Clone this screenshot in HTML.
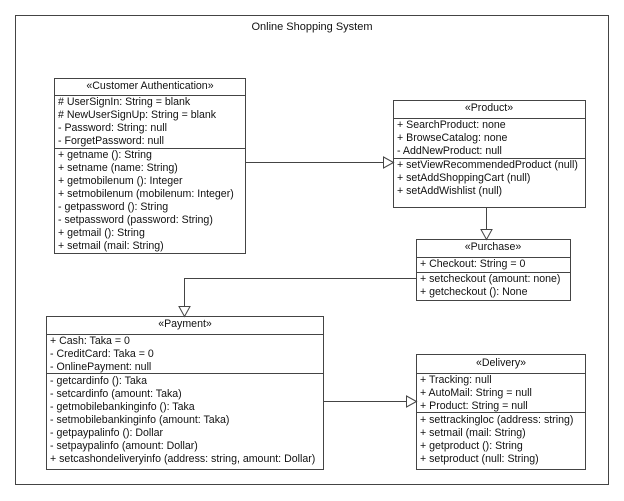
<!DOCTYPE html>
<html><head><meta charset="utf-8"><style>
html,body{margin:0;padding:0;background:#fff;}
svg{display:block;}
text{font-family:"Liberation Sans",Arial,sans-serif;font-size:10.6px;fill:#111;}
</style></head><body>
<svg width="624" height="501" viewBox="0 0 624 501" xmlns="http://www.w3.org/2000/svg">
<g fill="none" stroke="#444" stroke-width="1">
<rect x="15.5" y="15.5" width="593" height="469"/>
<rect x="54.5" y="78.5" width="191" height="175" fill="#fff"/>
<line x1="54.5" y1="95.5" x2="245.5" y2="95.5"/>
<line x1="54.5" y1="148.5" x2="245.5" y2="148.5"/>
<rect x="393.5" y="100.5" width="192" height="107" fill="#fff"/>
<line x1="393.5" y1="118.5" x2="585.5" y2="118.5"/>
<line x1="393.5" y1="158.5" x2="585.5" y2="158.5"/>
<rect x="416.5" y="239.5" width="154" height="61" fill="#fff"/>
<line x1="416.5" y1="257.5" x2="570.5" y2="257.5"/>
<line x1="416.5" y1="272.5" x2="570.5" y2="272.5"/>
<rect x="46.5" y="316.5" width="277" height="153" fill="#fff"/>
<line x1="46.5" y1="334.5" x2="323.5" y2="334.5"/>
<line x1="46.5" y1="373.5" x2="323.5" y2="373.5"/>
<rect x="416.5" y="354.5" width="169" height="115" fill="#fff"/>
<line x1="416.5" y1="373.5" x2="585.5" y2="373.5"/>
<line x1="416.5" y1="412.5" x2="585.5" y2="412.5"/>
<polyline points="245.5,162.5 383.5,162.5"/>
<polygon points="383.5,157 393.5,162.5 383.5,168" fill="#fff"/>
<polyline points="486.5,207.5 486.5,229.5"/>
<polygon points="481,229.5 486.5,239.5 492,229.5" fill="#fff"/>
<polyline points="416.5,278.5 184.5,278.5 184.5,306.5"/>
<polygon points="179,306.5 184.5,316.5 190,306.5" fill="#fff"/>
<polyline points="323.5,401.5 406.5,401.5"/>
<polygon points="406.5,396 416.5,401.5 406.5,407" fill="#fff"/>
</g>
<text x="312" y="30" text-anchor="middle" style="font-size:11px">Online Shopping System</text>

<g transform="translate(0,-2)">
<text x="150" y="91" text-anchor="middle">«Customer Authentication»</text>
<text x="58" y="107">#  UserSignIn: String = blank</text>
<text x="58" y="120">#  NewUserSignUp: String = blank</text>
<text x="58" y="133">- Password: String: null</text>
<text x="58" y="146">- ForgetPassword: null</text>
<text x="58" y="160">+ getname (): String</text>
<text x="58" y="173">+ setname (name: String)</text>
<text x="58" y="186">+ getmobilenum (): Integer</text>
<text x="58" y="199">+ setmobilenum (mobilenum: Integer)</text>
<text x="58" y="212">- getpassword (): String</text>
<text x="58" y="225">- setpassword (password: String)</text>
<text x="58" y="238">+ getmail (): String</text>
<text x="58" y="251">+ setmail (mail: String)</text>

<text x="489" y="113" text-anchor="middle">«Product»</text>
<text x="397" y="130">+ SearchProduct: none</text>
<text x="397" y="143">+ BrowseCatalog: none</text>
<text x="397" y="156">- AddNewProduct: null</text>
<text x="397" y="170">+ setViewRecommendedProduct (null)</text>
<text x="397" y="183">+ setAddShoppingCart (null)</text>
<text x="397" y="196">+ setAddWishlist (null)</text>

<text x="493" y="252" text-anchor="middle">«Purchase»</text>
<text x="420" y="269">+ Checkout: String = 0</text>
<text x="420" y="284">+ setcheckout (amount: none)</text>
<text x="420" y="297">+ getcheckout (): None</text>

<text x="185" y="329" text-anchor="middle">«Payment»</text>
<text x="50" y="346">+ Cash: Taka = 0</text>
<text x="50" y="359">- CreditCard: Taka = 0</text>
<text x="50" y="372">- OnlinePayment: null</text>
<text x="50" y="386">- getcardinfo (): Taka</text>
<text x="50" y="399">- setcardinfo (amount: Taka)</text>
<text x="50" y="412">- getmobilebankinginfo (): Taka</text>
<text x="50" y="425">- setmobilebankinginfo (amount: Taka)</text>
<text x="50" y="438">- getpaypalinfo (): Dollar</text>
<text x="50" y="451">- setpaypalinfo (amount: Dollar)</text>
<text x="50" y="464">+ setcashondeliveryinfo (address: string, amount: Dollar)</text>

<text x="501" y="368" text-anchor="middle">«Delivery»</text>
<text x="420" y="385">+ Tracking: null</text>
<text x="420" y="398">+ AutoMail: String = null</text>
<text x="420" y="411">+ Product: String = null</text>
<text x="420" y="425">+ settrackingloc (address: string)</text>
<text x="420" y="438">+ setmail (mail: String)</text>
<text x="420" y="451">+ getproduct (): String</text>
<text x="420" y="464">+ setproduct (null: String)</text>
</g>
</svg>
</body></html>
